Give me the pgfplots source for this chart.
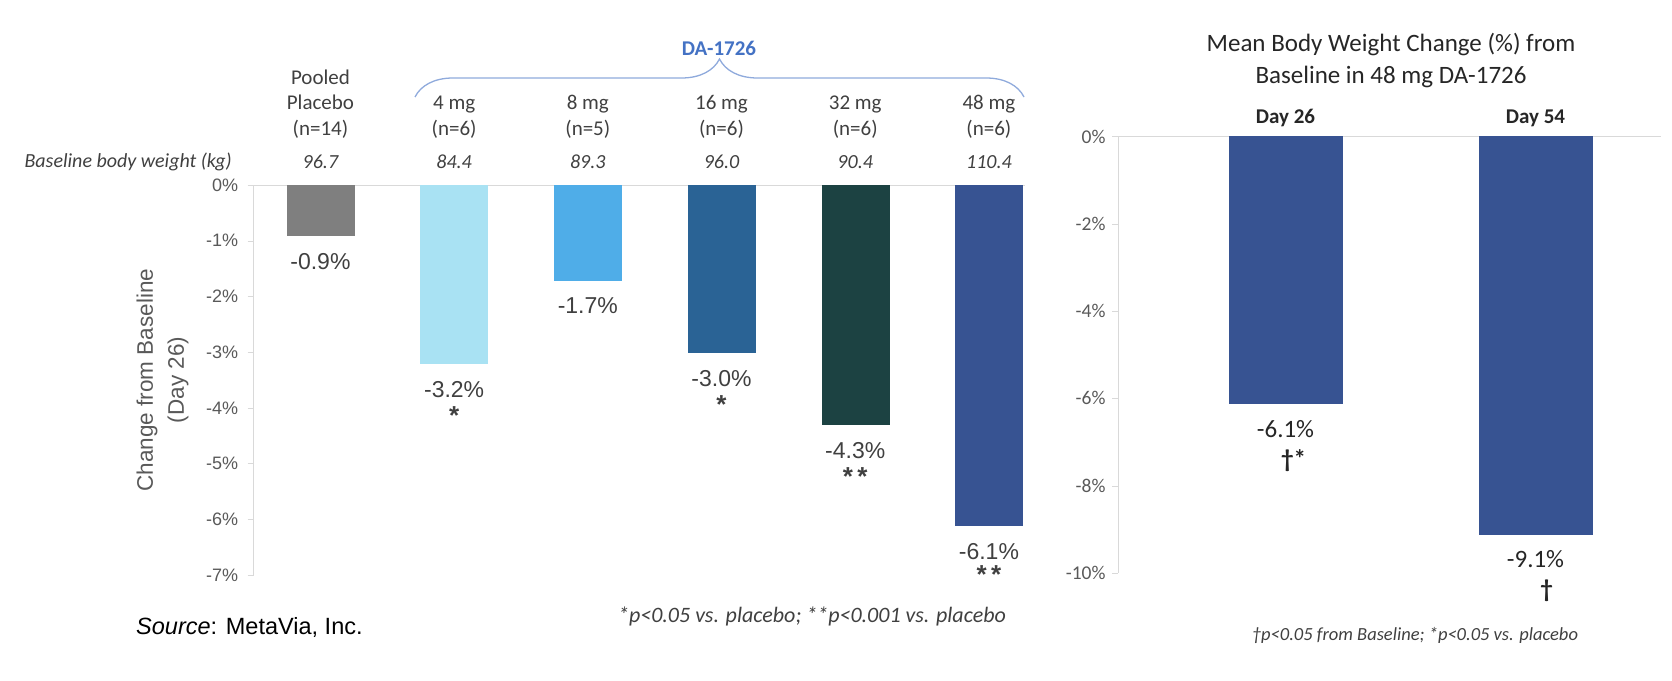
\documentclass[border=0pt]{standalone}
\usepackage{fontspec}
\setmainfont{Carlito}
\newfontfamily\arial{Liberation Sans}
\usepackage{pgfplots}
\pgfplotsset{compat=1.18}
\usetikzlibrary{decorations.pathreplacing}

\definecolor{cPlac}{HTML}{7F7F7F}
\definecolor{c4}{HTML}{A9E2F3}
\definecolor{c8}{HTML}{4FADE8}
\definecolor{c16}{HTML}{2A6395}
\definecolor{c32}{HTML}{1C4242}
\definecolor{c48}{HTML}{375392}
\definecolor{gridc}{HTML}{D9D9D9}
\definecolor{tickc}{HTML}{595959}
\definecolor{txt}{HTML}{404040}
\definecolor{dark}{HTML}{262626}
\definecolor{dablue}{HTML}{4472C4}
\definecolor{bracec}{HTML}{8FAADC}

\pgfplotsset{
  chartbase/.style={
    scale only axis, clip=false,
    axis x line=top, axis y line=left,
    axis line style={gridc,-},
    xtick=\empty,
    tick align=outside, major tick length=6pt,
    ytick style={gridc},
    ybar, bar shift=0pt,
    every node near coord/.style={anchor=north, inner sep=0pt, align=center},
  },
}
% significance marks under the value labels
\newcommand{\sig}[1]{{\arial\bfseries\fontsize{26}{28}\selectfont #1}}

\begin{document}
\begin{tikzpicture}[x=1pt,y=1pt]

% ---- left chart: change from baseline at day 26
\begin{axis}[chartbase,
  at={(253.6pt,105pt)}, anchor=south west,
  width=771.4pt, height=390pt,
  xmin=-0.5, xmax=5.27, ymin=-7, ymax=0,
  ytick={-7,...,0},
  yticklabels={-7\%,-6\%,-5\%,-4\%,-3\%,-2\%,-1\%,0\%},
  yticklabel style={font=\arial\fontsize{18}{18}\selectfont, text=tickc, xshift=-6pt},
  ylabel={Change from Baseline\\(Day 26)},
  every axis y label/.style={at={(axis description cs:-0.118,0.5)}, rotate=90,
    anchor=center, align=center, font=\arial\fontsize{22.5}{31}\selectfont, text=tickc},
  bar width=67pt,
  every node near coord/.append style={font=\arial\fontsize{23}{27}\selectfont, text=txt, yshift=-18pt},
]
\addplot[fill=cPlac, draw=cPlac, nodes near coords={-0.9\%}] coordinates {(0,-0.9)};
\addplot[fill=c4, draw=c4, nodes near coords={-3.2\%\\\sig{*}}] coordinates {(1,-3.2)};
\addplot[fill=c8, draw=c8, nodes near coords={-1.7\%}] coordinates {(2,-1.7)};
\addplot[fill=c16, draw=c16, nodes near coords={-3.0\%\\\sig{*}}] coordinates {(3,-3.0)};
\addplot[fill=c32, draw=c32, nodes near coords={-4.3\%\\\sig{*\,*}}] coordinates {(4,-4.3)};
\addplot[fill=c48, draw=c48, nodes near coords={-6.1\%\\[-3pt]\sig{*\,*}}] coordinates {(5,-6.1)};

\tikzset{catlab/.style={anchor=base, align=center, inner sep=0pt, text=txt,
  font=\fontsize{21}{25.5}\selectfont, yshift=17pt}}
\node[catlab] at (axis cs:0,0) {Pooled\\Placebo\\(n=14)\\[7.5pt]{\itshape\fontsize{20}{20}\selectfont 96.7}};
\node[catlab] at (axis cs:1,0) {4 mg\\(n=6)\\[7.5pt]{\itshape\fontsize{20}{20}\selectfont 84.4}};
\node[catlab] at (axis cs:2,0) {8 mg\\(n=5)\\[7.5pt]{\itshape\fontsize{20}{20}\selectfont 89.3}};
\node[catlab] at (axis cs:3,0) {16 mg\\(n=6)\\[7.5pt]{\itshape\fontsize{20}{20}\selectfont 96.0}};
\node[catlab] at (axis cs:4,0) {32 mg\\(n=6)\\[7.5pt]{\itshape\fontsize{20}{20}\selectfont 90.4}};
\node[catlab] at (axis cs:5,0) {48 mg\\(n=6)\\[7.5pt]{\itshape\fontsize{20}{20}\selectfont 110.4}};
\end{axis}

\node[anchor=base east, inner sep=0pt, text=txt, font=\itshape\fontsize{20}{20}\selectfont] at (232,512) {Baseline body weight (kg)};

\draw[bracec, line width=1.3pt, decorate, decoration={brace, amplitude=38pt}] (415,583) -- (1024,583);
\node[text=dablue, font=\bfseries\fontsize{21}{24}\selectfont] at (719,632) {DA-1726};

\node[text=txt, font=\itshape\fontsize{22}{24}\selectfont] at (812,64) {*p<0.05 vs. placebo; **p<0.001 vs. placebo};
\node[anchor=west, inner sep=0pt, text=black, font=\arial\fontsize{23.5}{28}\selectfont] at (136,53) {\textit{Source}: MetaVia, Inc.};

% ---- right chart: 48 mg over time
\begin{axis}[chartbase,
  at={(1118pt,107pt)}, anchor=south west,
  width=542.5pt, height=436.5pt,
  xmin=-0.67, xmax=1.5, ymin=-10, ymax=0,
  ytick={-10,-8,...,0},
  yticklabels={-10\%,-8\%,-6\%,-4\%,-2\%,0\%},
  yticklabel style={font=\fontsize{19.5}{20}\selectfont, text=tickc, xshift=-3pt},
  bar width=113pt,
  every node near coord/.append style={font=\fontsize{25}{30}\selectfont, text=dark, yshift=-17pt},
]
\addplot[fill=c48, draw=c48, nodes near coords={-6.1\%\\\hspace*{16pt}\textbf{†*}}] coordinates {(0,-6.1)};
\addplot[fill=c48, draw=c48, nodes near coords={-9.1\%\\\hspace*{22pt}\textbf{†}}] coordinates {(1,-9.1)};
\node[anchor=base, inner sep=0pt, text=dark, font=\bfseries\fontsize{21}{24}\selectfont, yshift=13pt] at (axis cs:0,0) {Day 26};
\node[anchor=base, inner sep=0pt, text=dark, font=\bfseries\fontsize{21}{24}\selectfont, yshift=13pt] at (axis cs:1,0) {Day 54};
\end{axis}

\node[align=center, text=dark, font=\fontsize{25}{32}\selectfont] at (1391,619) {Mean Body Weight Change (\%) from\\Baseline in 48 mg DA-1726};
\node[text=txt, font=\itshape\fontsize{18.5}{20}\selectfont] at (1415,45) {†p<0.05 from Baseline; *p<0.05 vs. placebo};

\pgfresetboundingbox
\path[use as bounding box] (0,0) rectangle (1672,680);
\end{tikzpicture}
\end{document}
